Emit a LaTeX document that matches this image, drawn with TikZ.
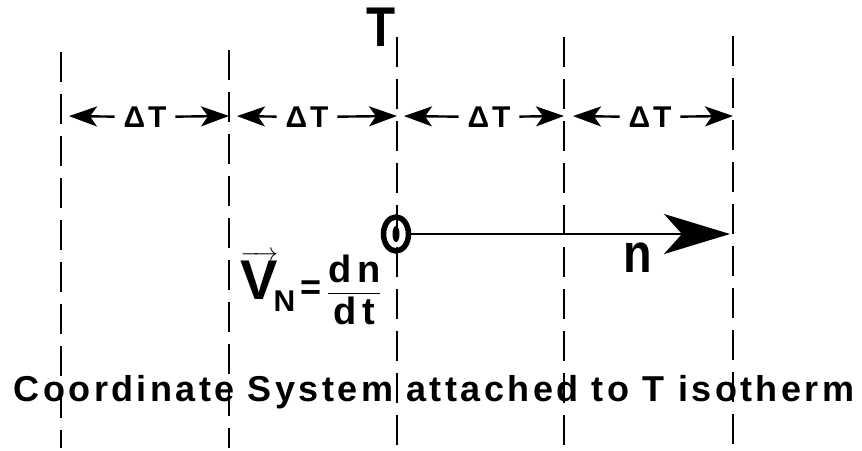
\documentclass[tikz,border=0pt]{standalone}
\usepackage{fontspec}
\setmainfont{Liberation Sans}
\usepackage{amsmath}
\usepackage{graphicx}
\usepackage{tikz}
\usetikzlibrary{arrows.meta}
\usetikzlibrary{shapes.geometric}

\begin{document}
\begin{tikzpicture}[
    x=1pt, y=-1pt,
    isoline/.style={line width=2.6pt, dash pattern=on 30pt off 12pt},
    dimarrow/.style={-{Stealth[length=28pt, width=20pt, inset=7pt]}, line width=2.4pt},
    dimlabel/.style={inner sep=0pt, outer sep=9pt, font=\fontsize{30}{32}\selectfont\bfseries},
    normal/.style={-{Stealth[length=66pt, width=40pt, inset=18pt]}, line width=2.6pt},
    origin/.style={ellipse, draw, line width=5.5pt, minimum width=25pt, minimum height=34pt, inner sep=0pt},
    every node/.style={font=\bfseries}
    ]
    \useasboundingbox (0,0) rectangle (862,450);

    % Isotherms
    \foreach \i/\x/\y in {1/61/52, 2/229/50, 3/397/37, 4/564/37, 5/733/36} {
        \coordinate (top\i) at (\x,\y);
        \coordinate (bot\i) at (\x,448);
        \coordinate (mid\i) at (\x,116);
        \draw[isoline] (top\i) -- (bot\i);
    }

    % Nodes
    \node[font=\fontsize{56}{56}\selectfont\bfseries] (T) at (381,27) {\scalebox{0.85}[1]{T}};
    \node[dimlabel] (dT1) at (145,117) {Δ\kern3pt T};
    \node[dimlabel] (dT2) at (307,117) {Δ\kern3pt T};
    \node[dimlabel] (dT3) at (489,117) {Δ\kern3pt T};
    \node[dimlabel] (dT4) at (650,117) {Δ\kern3pt T};
    \node[origin] (O) at (396,234) {};
    \fill (O.center) ellipse [x radius=3.5pt, y radius=8pt];
    \coordinate (tip) at (730,234);
    \node[font=\fontsize{55}{55}\selectfont\bfseries] (n) at (638,258) {\scalebox{0.85}[1]{n}};
    \node[inner sep=0pt] (vn) at (311,288) {\fontsize{36}{40}\selectfont
        $\overrightarrow{\mbox{\fontsize{56}{56}\selectfont\bfseries V}}\!_{\mbox{\fontsize{30}{30}\selectfont\bfseries N}}
        \mbox{\kern5pt\bfseries =\kern5pt} \dfrac{\mbox{\fontsize{38}{38}\selectfont\bfseries\addfontfeature{LetterSpace=15}dn}}
        {\mbox{\fontsize{38}{38}\selectfont\bfseries\addfontfeature{LetterSpace=15}dt}}$};
    \node[font=\fontsize{36}{40}\selectfont\bfseries] (caption) at (434,392)
        {\addfontfeature{LetterSpace=9.5}Coordinate System attached to T isotherm};

    % Arrows
    \draw[dimarrow, shorten >=8pt] (dT1) -- (mid1);
    \draw[dimarrow] (dT1) -- (mid2);
    \draw[dimarrow, shorten >=8pt] (dT2) -- (mid2);
    \draw[dimarrow] (dT2) -- (mid3);
    \draw[dimarrow, shorten >=7pt] (dT3) -- (mid3);
    \draw[dimarrow] (dT3) -- (mid4);
    \draw[dimarrow, shorten >=9pt] (dT4) -- (mid4);
    \draw[dimarrow] (dT4) -- (mid5);

    \draw[normal] (O) -- (tip);

\end{tikzpicture}
\end{document}
